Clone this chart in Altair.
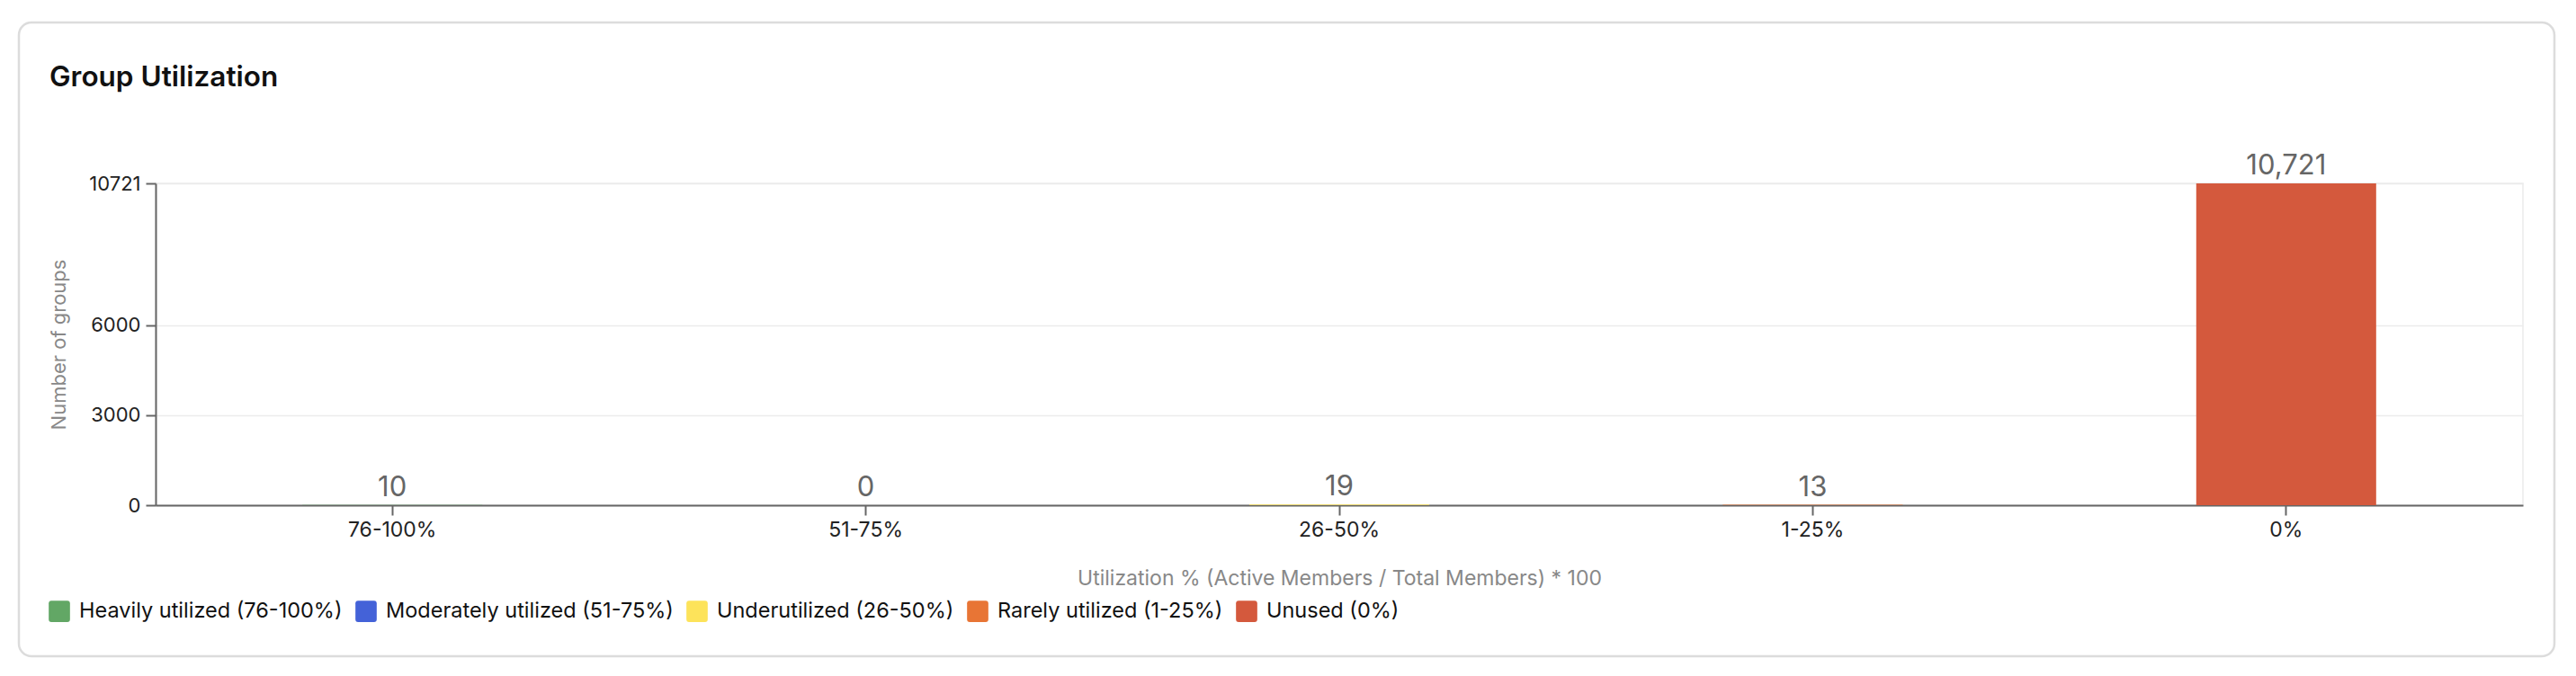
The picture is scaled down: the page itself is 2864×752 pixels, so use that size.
import altair as alt
import pandas as pd

ranges = ["76-100%", "51-75%", "26-50%", "1-25%", "0%"]
statuses = [
    "Heavily utilized (76-100%)",
    "Moderately utilized (51-75%)",
    "Underutilized (26-50%)",
    "Rarely utilized (1-25%)",
    "Unused (0%)",
]
counts = [10, 0, 19, 13, 10721]
colors = ["#62a765", "#4462d8", "#fde35a", "#e87535", "#d4593d"]
y_ticks = [0, 3000, 6000, 10721]

df = pd.DataFrame({"range": ranges, "status": statuses, "count": counts})

FONT = "Inter"
W, H = 2632, 358

rounded = "M-1,-0.75 Q-1,-1 -0.75,-1 L0.75,-1 Q1,-1 1,-0.75 L1,0.75 Q1,1 0.75,1 L-0.75,1 Q-1,1 -1,0.75 Z"

base = alt.Chart(df)

x_enc = alt.X(
    "range:N",
    sort=ranges,
    scale=alt.Scale(paddingInner=0.62, paddingOuter=0.31),
    axis=alt.Axis(
        title="Utilization % (Active Members / Total Members) * 100",
        labelAngle=0,
        labelFontSize=23,
        labelColor="#222",
        labelPadding=5,
        tickSize=11,
        titlePadding=31,
        titleFontSize=23,
    ),
)
y_enc = alt.Y(
    "count:Q",
    scale=alt.Scale(domain=[0, max(counts)], nice=False),
    axis=alt.Axis(
        title="Number of groups",
        values=y_ticks,
        format="d",
        labelFontSize=22,
        labelColor="#222",
        labelPadding=6,
        tickSize=11,
        titlePadding=21,
        titleFontSize=22,
    ),
)

bars = base.mark_bar().encode(
    x=x_enc,
    y=y_enc,
    color=alt.Color(
        "status:N",
        sort=statuses,
        scale=alt.Scale(domain=statuses, range=colors),
        legend=alt.Legend(
            title=None,
            orient="none",
            direction="horizontal",
            columns=5,
            legendX=-119,
            legendY=464,
            symbolType=rounded,
            symbolSize=560,
            symbolStrokeWidth=0,
            labelFontSize=23.5,
            labelColor="#111",
            labelOffset=10,
            columnPadding=14,
            labelLimit=1000,
        ),
    ),
)

labels = base.mark_text(
    baseline="alphabetic", dy=-10, fontSize=31, color="#666", font=FONT
).encode(
    x=alt.X("range:N", sort=ranges),
    y="count:Q",
    text=alt.Text("count:Q", format=","),
)

card = alt.Chart(pd.DataFrame({"c": [0]})).mark_rect(
    fill=None, stroke="#dcdcdc", strokeWidth=2.5, cornerRadius=14
).encode(
    x=alt.value(-152), x2=alt.value(2667), y=alt.value(-179), y2=alt.value(526)
)

chart = (
    alt.layer(card, bars, labels)
    .properties(
        width=W,
        height=H,
        autosize=alt.AutoSizeParams(type="none"),
        padding={"left": 165, "top": 196, "right": 51, "bottom": 180},
        title=alt.TitleParams(
            "Group Utilization",
            anchor="start",
            frame="group",
            dx=-118,
            offset=-79,
            fontSize=31.5,
            fontWeight=600,
            color="#111",
            font=FONT,
        ),
    )
    .configure(font=FONT, background="white")
    .configure_view(stroke="#ececec", strokeWidth=1.5)
    .configure_axis(
        domainColor="#666",
        domainWidth=2,
        tickColor="#666",
        tickWidth=2,
        gridColor="#ececec",
        gridWidth=1.5,
        titleColor="#888",
        titleFontWeight="normal",
        labelFont=FONT,
        titleFont=FONT,
    )
    .configure_legend(labelFont=FONT)
)

chart.save("out.html", embed_options={"renderer": "svg", "actions": False})
